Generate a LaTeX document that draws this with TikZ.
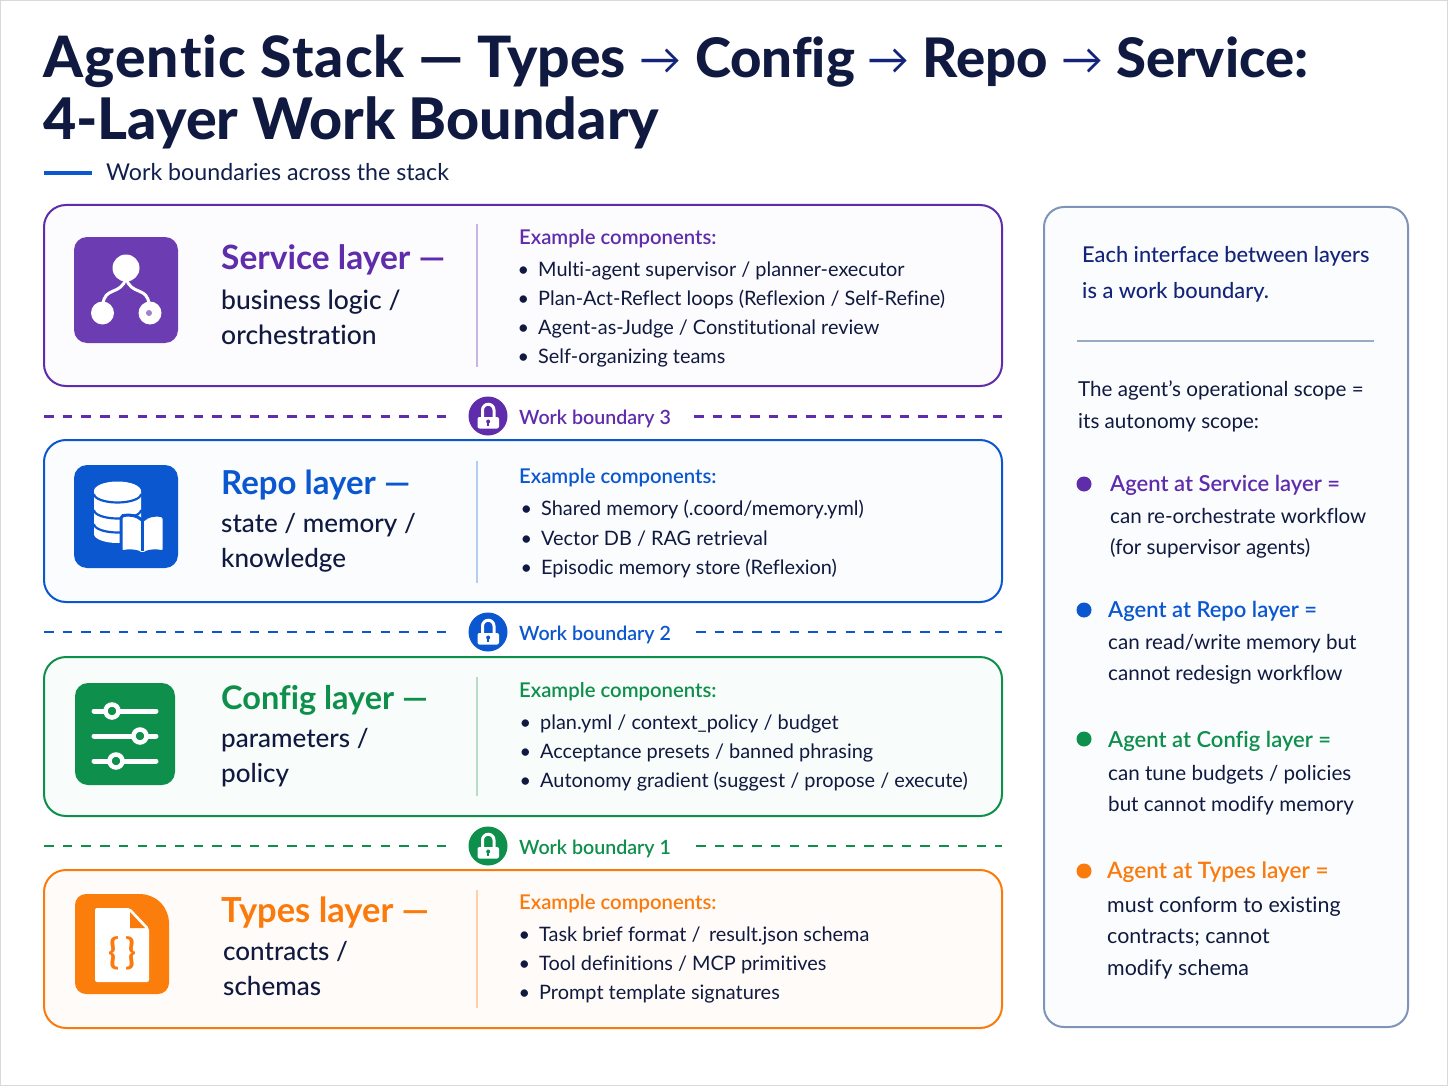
\documentclass[tikz,border=0pt]{standalone}
\usepackage{fontspec}
\setmainfont{Lato}[Ligatures=NoCommon]
\newfontface\semi{Lato Semibold}[Ligatures=NoCommon]
\newfontface\latomed{Lato Medium}[Ligatures=NoCommon]
\newfontface\heavy{Lato Heavy}[Ligatures=NoCommon]
\definecolor{ink}{HTML}{10193F}
\definecolor{navy}{HTML}{14247A}
\definecolor{slate}{HTML}{7F95B8}
\definecolor{svc}{HTML}{5F2CAB}
\definecolor{rep}{HTML}{0B57D0}
\definecolor{cfg}{HTML}{0E8F4C}
\definecolor{typ}{HTML}{FB7A0C}
\newcommand{\fs}[1]{\fontsize{#1}{#1}\selectfont}
\newcommand{\bul}{\makebox[0pt][r]{\textbullet\hspace{9pt}}}
\newcommand{\arr}{{\raisebox{3pt}{\fs{42}\normalfont\color{navy}→}}}
\tikzset{
  lockicon/.pic={
    \fill[white, rounded corners=2] (-10.5,1) rectangle (11,12.5);
    \draw[white, line width=3] (-5.5,2) -- (-5.5,-6) arc[start angle=180, end angle=360, radius=5.75] -- (6,2);
    \fill[#1] (0.2,5.5) circle (2);
    \fill[#1] (-0.6,5.5) rectangle (1,9.5);
  }
}
\begin{document}
\begin{tikzpicture}
  [
    x=1pt, y=-1pt,
    txt/.style={anchor=base west, inner sep=0pt, text=ink},
    heading/.style={txt, font=\fs{57}\heavy},
    layername/.style={txt, font=\fs{33.5}\bfseries},
    layerdesc/.style={txt, font=\fs{26}\latomed},
    examples/.style={txt, font=\fs{20.3}\semi},
    item/.style={txt, font=\fs{19.9}},
    boundary/.style={txt, font=\fs{19.6}\semi},
    note/.style={txt, font=\fs{20.6}},
    side/.style={txt, font=\fs{22}\semi},
    card/.style={draw=#1, line width=2pt, rounded corners=22},
    icon/.style={fill=#1, rounded corners=13},
    rule/.style={line width=1.3pt},
    bound/.style={draw=#1, line width=2.6pt, dash pattern=on 9.5pt off 9.2pt},
    lockdisc/.style={circle, fill=#1, minimum size=39pt, inner sep=0pt},
    dot/.style={circle, fill=#1, minimum size=15pt, inner sep=0pt}
  ]
  \useasboundingbox (0,0) rectangle (1448,1086);
  \fill[white] (0,0) rectangle (1448,1086);
  \draw[black!15, line width=2pt] (0,0) rectangle (1448,1086);

  \node[heading] (title1) at (43,78) {{\addfontfeature{LetterSpace=2}Agentic Stack} — Types \arr{} {\fs{54.5}Config \arr{} Repo \arr{} Service:}};
  \node[heading, font=\fs{57.4}\heavy] (title2) at (43,140) {4-Layer Work Boundary};
  \coordinate (subl) at (44,173);
  \coordinate (subr) at (92,173);
  \draw[rep, line width=4pt] (subl) -- (subr);
  \node[txt, font=\fs{23.2}, text=ink!90!rep] (subtitle) at (106,181) {Work boundaries across the stack};

  % cards
  \draw[card=svc, fill=svc!2] (44,205) rectangle (1002,386);
  \draw[card=rep, fill=rep!2] (44,440) rectangle (1002,602);
  \draw[card=cfg, fill=cfg!3] (44,657) rectangle (1002,816);
  \draw[card=typ, fill=typ!3] (44,870) rectangle (1002,1028);

  \draw[rule, svc!35] (477,224) -- (477,367);
  \draw[rule, rep!30] (477,461) -- (477,583);
  \draw[rule, cfg!30] (477,677) -- (477,796);
  \draw[rule, typ!35] (477,890) -- (477,1008);

  % service
  \fill[icon=svc!92!white] (74,237) rectangle (178,343);
  \draw[white, line width=3pt] (126,278) .. controls (121,296) and (104,286) .. (103,305);
  \draw[white, line width=3pt] (126,278) .. controls (131,296) and (148,286) .. (149,305);
  \fill[white] (126,268) circle (13.5);
  \fill[white] (102.5,313) circle (11.5);
  \fill[white] (150,313) circle (11.5);
  \fill[svc!60] (149,313) circle (3);
  \node[layername, text=svc] (svcname) at (221,269) {Service layer —};
  \node[layerdesc, font=\fs{26.5}\latomed] (svcdesc1) at (221,309.5) {business logic /};
  \node[layerdesc, font=\fs{26.5}\latomed] (svcdesc2) at (221,344.5) {orchestration};
  \node[examples, text=svc] (svcex) at (519,244.5) {Example components:};
  \node[item] (svc1) at (538,276) {\bul Multi-agent supervisor / planner-executor};
  \node[item] (svc2) at (538,305) {\bul Plan-Act-Reflect loops (Reflexion / Self-Refine)};
  \node[item] (svc3) at (538,334) {\bul Agent-as-Judge / Constitutional review};
  \node[item] (svc4) at (538,363) {\bul Self-organizing teams};

  % repo
  \fill[icon=rep] (74,465) rectangle (178,568);
  \fill[white] (94,491) -- (94,534) arc[start angle=180, end angle=0, x radius=23.5, y radius=9] -- (141,491) arc[start angle=0, end angle=-180, x radius=23.5, y radius=9.5] -- cycle;
  \draw[rep, line width=2.2pt] (94,494) arc[start angle=180, end angle=0, x radius=23.5, y radius=8.5];
  \draw[rep, line width=2.2pt] (94,510) arc[start angle=180, end angle=0, x radius=23.5, y radius=8.5];
  \draw[rep, line width=2.2pt] (94,524) arc[start angle=180, end angle=0, x radius=23.5, y radius=8.5];
  \filldraw[white, draw=rep, line width=3pt, rounded corners=2] (121,516) .. controls (130,514) and (138,516) .. (142.5,521) .. controls (147,516) and (155,514) .. (164,516) -- (164,552) .. controls (155,550) and (147,551) .. (142.5,555) .. controls (138,551) and (130,550) .. (121,552) -- cycle;
  \draw[rep, line width=3pt] (142.5,521) -- (142.5,551);
  \node[layername, font=\fs{33}\bfseries, text=rep] (repname) at (221,494) {Repo layer —};
  \node[layerdesc] (repdesc1) at (221,532.5) {state / memory /};
  \node[layerdesc] (repdesc2) at (221,567.5) {knowledge};
  \node[examples, text=rep] (repex) at (519,483) {Example components:};
  \node[item] (rep1) at (541,515) {\bul Shared memory (.coord/memory.yml)};
  \node[item] (rep2) at (541,545) {\bul Vector DB / RAG retrieval};
  \node[item] (rep3) at (541,574) {\bul Episodic memory store (Reflexion)};

  % config
  \fill[icon=cfg] (75,683) rectangle (175,785);
  \draw[white, line width=5pt, line cap=round] (94,711) -- (156,711);
  \draw[white, line width=5pt, line cap=round] (94,736) -- (156,736);
  \draw[white, line width=5pt, line cap=round] (94,761) -- (156,761);
  \filldraw[fill=cfg, draw=white, line width=4.5pt] (112,711) circle (6.5);
  \filldraw[fill=cfg, draw=white, line width=4.5pt] (140,736) circle (6.5);
  \filldraw[fill=cfg, draw=white, line width=4.5pt] (116,761) circle (6.5);
  \node[layername, font=\fs{32.5}\bfseries, text=cfg] (cfgname) at (221,709) {Config layer —};
  \node[layerdesc] (cfgdesc1) at (221,747.5) {parameters /};
  \node[layerdesc] (cfgdesc2) at (221,782.5) {policy};
  \node[examples, text=cfg] (cfgex) at (519,697) {Example components:};
  \node[item] (cfg1) at (540,729) {\bul plan.yml / context\_policy / budget};
  \node[item] (cfg2) at (540,758) {\bul Acceptance presets / banned phrasing};
  \node[item] (cfg3) at (540,787) {\bul Autonomy gradient (suggest / propose / execute)};

  % types
  \fill[typ!98!yellow, rounded corners=11] (75,894) -- (152,894) -- (169,911) -- (169,994) -- (75,994) -- cycle;
  \fill[white, rounded corners=2] (95,908) -- (130,908) -- (149,928) -- (149,982) -- (95,982) -- cycle;
  \fill[typ] (130,912) -- (145,928) -- (130,928) -- cycle;
  \node[font=\fs{36}\bfseries, text=typ, inner sep=0pt] (brace) at (122.5,953) {\{\,\}};
  \node[layername, font=\fs{34.5}\bfseries, text=typ] (typname) at (221,922) {Types layer —};
  \node[layerdesc] (typdesc1) at (223,960.5) {contracts /};
  \node[layerdesc] (typdesc2) at (223,995.5) {schemas};
  \node[examples, text=typ] (typex) at (519,909) {Example components:};
  \node[item] (typ1) at (539,941) {\bul Task brief format /\, result.json schema};
  \node[item] (typ2) at (539,970) {\bul Tool definitions / MCP primitives};
  \node[item] (typ3) at (539,999) {\bul Prompt template signatures};

  % boundaries
  \coordinate (b3a) at (44,416.5);
  \coordinate (b3b) at (449,416.5);
  \coordinate (b3c) at (694,416.5);
  \coordinate (b3d) at (1002,416.5);
  \draw[bound=svc] (b3a) -- (b3b);
  \draw[bound=svc] (b3c) -- (b3d);
  \node[lockdisc=svc] (lock3) at (488,416) {};
  \pic at (lock3.center) {lockicon=svc};
  \node[boundary, text=svc] (bound3) at (519,424) {Work boundary 3};
  \coordinate (b2a) at (44,632);
  \coordinate (b2b) at (447,632);
  \coordinate (b2c) at (696,632);
  \coordinate (b2d) at (1002,632);
  \draw[bound=rep] (b2a) -- (b2b);
  \draw[bound=rep] (b2c) -- (b2d);
  \node[lockdisc=rep] (lock2) at (488,632) {};
  \pic at (lock2.center) {lockicon=rep};
  \node[boundary, text=rep] (bound2) at (519,640) {Work boundary 2};
  \coordinate (b1a) at (44,846);
  \coordinate (b1b) at (447,846);
  \coordinate (b1c) at (696,846);
  \coordinate (b1d) at (1002,846);
  \draw[bound=cfg] (b1a) -- (b1b);
  \draw[bound=cfg] (b1c) -- (b1d);
  \node[lockdisc=cfg] (lock1) at (488,846) {};
  \pic at (lock1.center) {lockicon=cfg};
  \node[boundary, text=cfg] (bound1) at (519,854) {Work boundary 1};

  % side panel
  \draw[draw=slate, fill=rep!2, line width=2pt, rounded corners=20] (1044,207) rectangle (1408,1027);
  \node[note, font=\fs{21.8}\latomed, text=navy] (each1) at (1082,262) {Each interface between layers};
  \node[note, font=\fs{21.8}\latomed, text=navy] (each2) at (1082,298) {is a work boundary.};
  \coordinate (dividl) at (1077,341);
  \coordinate (dividr) at (1374,341);
  \draw[slate!80, line width=1.2pt] (dividl) -- (dividr);
  \node[note] (scope1) at (1078,396) {The agent’s operational scope =};
  \node[note] (scope2) at (1078,428) {its autonomy scope:};

  \node[dot=svc] (dotsvc) at (1084,484) {};
  \node[side, text=svc] (sidesvc) at (1110,491) {Agent at Service layer =};
  \node[note] (sidesvc1) at (1110,523) {can re-orchestrate workflow};
  \node[note] (sidesvc2) at (1110,554) {(for supervisor agents)};

  \node[dot=rep] (dotrep) at (1084,610) {};
  \node[side, text=rep] (siderep) at (1108,617) {Agent at Repo layer =};
  \node[note] (siderep1) at (1108,649) {can read/write memory but};
  \node[note] (siderep2) at (1108,680) {cannot redesign workflow};

  \node[dot=cfg] (dotcfg) at (1084,739) {};
  \node[side, text=cfg] (sidecfg) at (1108,747) {Agent at Config layer =};
  \node[note] (sidecfg1) at (1108,780) {can tune budgets / policies};
  \node[note] (sidecfg2) at (1108,811) {but cannot modify memory};

  \node[dot=typ] (dottyp) at (1084,871) {};
  \node[side, font=\fs{22.6}\semi, text=typ] (sidetyp) at (1107,878) {Agent at Types layer =};
  \node[note, font=\fs{21.4}] (sidetyp1) at (1107,912) {must conform to existing};
  \node[note, font=\fs{21.4}] (sidetyp2) at (1107,943) {contracts; cannot};
  \node[note, font=\fs{21.4}] (sidetyp3) at (1107,975) {modify schema};
\end{tikzpicture}
\end{document}
